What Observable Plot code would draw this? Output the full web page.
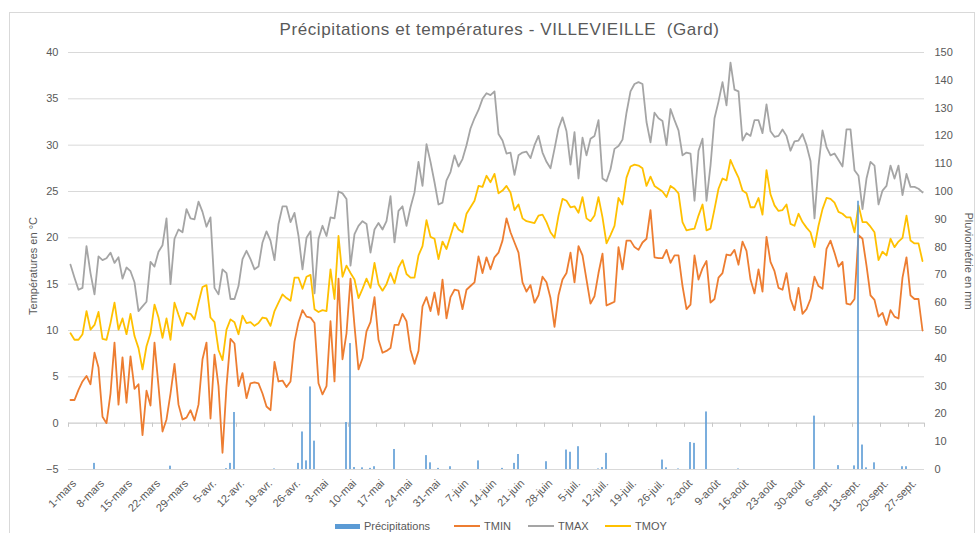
<!DOCTYPE html>
<html>
<head>
<meta charset="utf-8">
<script src="https://cdn.jsdelivr.net/npm/d3@7"></script>
<script src="https://cdn.jsdelivr.net/npm/@observablehq/plot@0.6"></script>
<style>
  html, body { margin: 0; padding: 0; background: #fff; }
  body { font-family: "Liberation Sans", Arial, sans-serif; color: #595959; }
  #wrap { position: relative; width: 978px; height: 533px; overflow: hidden; }
  #frame { position: absolute; left: 9px; top: 12px; width: 966px; height: 540px; border: 1px solid #d9d9d9; box-sizing: border-box; }
  #title { position: absolute; left: 0; top: 20px; width: 999px; text-align: center; font-size: 17px; letter-spacing: 0.6px; white-space: pre; color: #595959; }
  #chart { position: absolute; left: 0; top: 0; }
  .lg { position: absolute; font-size: 11px; color: #595959; top: 519px; line-height: 14px; }
  .sw { position: absolute; }
</style>
</head>
<body>
<div id="wrap">
  <div id="frame"></div>
  <div id="title">Précipitations et températures - VILLEVIEILLE  (Gard)</div>
  <div id="chart"></div>
  <div id="legend"></div>
</div>
<script>
// ---- Data (daily, 1 March -> 30 September) ----
const tmax = [
 17.1,15.7,14.4,14.6,19.1,16.2,13.9,18.0,17.6,17.8,18.4,17.3,17.9,15.6,16.8,16.4,15.2,12.1,12.6,13.1,
 17.4,16.9,18.5,19.2,22.1,15.0,19.9,20.9,20.6,23.1,22.1,22.0,23.9,22.8,21.2,22.2,14.6,13.9,16.6,16.2,
 13.4,13.4,14.8,17.7,18.6,17.7,16.6,16.9,19.5,20.7,19.7,17.6,21.5,23.4,23.4,21.7,22.7,20.2,16.6,20.0,
 20.7,14.0,19.9,21.3,20.2,22.2,22.1,25.0,24.8,24.2,17.0,20.4,21.3,21.8,21.5,18.4,20.9,21.6,20.9,21.8,
 24.5,19.5,22.9,23.4,21.3,23.3,24.9,28.2,25.6,30.1,28.2,26.0,23.6,23.8,26.2,27.1,28.9,27.7,28.5,30.0,
 31.8,32.9,33.8,35.0,35.6,35.4,35.8,31.2,30.5,29.1,29.2,26.8,28.9,29.2,29.3,28.6,30.0,31.0,29.2,28.2,
 27.5,29.6,31.8,33.0,31.5,27.9,31.4,26.4,30.8,28.9,30.7,31.0,32.7,26.4,26.1,27.4,29.6,29.9,30.6,33.5,
 35.8,36.6,36.8,36.6,32.5,30.3,33.5,32.9,32.6,30.0,33.9,32.7,31.6,28.9,29.2,29.1,24.0,29.4,30.7,24.0,
 27.8,32.9,34.7,36.8,34.3,38.9,36.0,35.8,30.5,31.3,31.0,32.7,32.7,31.3,34.4,31.5,30.9,31.0,31.7,31.0,
 29.4,30.4,30.5,31.2,30.0,28.3,22.1,27.8,31.6,29.8,28.9,29.1,28.4,27.7,31.7,31.7,27.3,26.7,23.1,26.4,
 28.2,27.8,23.6,25.1,25.6,27.8,26.4,27.8,24.6,26.9,25.5,25.5,25.3,24.9
];
const tmoy = [
 9.7,9.0,9.0,9.6,12.1,10.1,10.6,12.0,9.1,9.0,10.8,13.0,10.1,11.3,9.6,11.8,9.4,8.1,5.8,8.3,
 9.7,12.8,11.4,9.2,11.3,9.0,13.0,11.7,10.5,11.9,11.8,11.2,13.0,14.7,14.9,11.4,10.9,7.9,6.8,10.1,
 11.2,10.9,9.6,11.6,10.8,10.9,10.5,10.8,11.4,11.3,10.5,12.1,13.0,13.9,13.5,13.2,15.7,15.7,14.5,15.8,
 16.0,12.3,12.0,12.2,12.1,16.6,13.4,20.2,15.8,17.0,16.2,15.5,13.5,14.5,15.6,14.6,17.3,15.0,14.3,15.0,
 16.2,15.1,16.8,17.6,16.1,15.7,15.7,18.1,19.1,21.9,20.1,19.9,17.7,19.6,18.8,20.2,21.6,20.9,20.6,22.6,
 23.3,24.0,25.6,25.5,26.7,26.0,26.9,24.8,25.1,25.6,24.9,23.0,23.6,22.1,21.8,21.7,21.6,22.4,22.5,21.7,
 20.6,20.0,22.4,24.2,24.0,23.3,23.4,22.7,24.4,22.1,21.8,22.4,24.4,22.2,19.4,20.3,21.3,24.3,23.6,26.5,
 27.7,27.9,27.8,27.5,25.6,26.6,25.6,25.3,25.0,24.4,25.6,25.3,24.8,21.7,20.8,20.9,21.0,22.4,23.6,20.8,
 21.0,23.1,25.3,26.4,26.2,28.4,27.4,26.5,25.1,24.8,23.3,23.3,24.3,22.5,27.3,24.7,23.5,22.9,23.0,23.6,
 21.5,21.3,22.6,21.7,21.1,20.6,19.0,21.3,23.1,24.3,24.2,23.8,22.8,22.6,22.2,22.2,20.6,23.5,21.7,21.7,
 21.2,20.6,17.6,18.5,18.1,19.9,19.0,19.6,20.0,22.4,19.7,19.4,19.4,17.5
];
const tmin = [
 2.5,2.5,3.6,4.5,5.1,4.2,7.6,6.0,0.7,0.0,3.2,8.7,2.0,7.1,2.2,7.2,3.7,4.2,-1.3,3.5,
 1.9,8.7,4.0,-0.9,0.4,3.2,6.4,2.0,0.4,0.6,1.4,0.3,2.0,6.9,8.7,0.5,7.4,4.0,-3.2,4.0,
 9.1,8.6,4.0,5.4,2.7,4.3,4.4,4.3,3.2,1.8,1.4,6.6,4.5,4.6,3.9,4.5,8.8,10.9,12.2,11.5,
 11.4,10.8,4.3,3.1,4.0,11.0,4.5,15.6,6.9,9.7,15.6,10.5,5.8,7.0,9.9,10.9,13.6,9.0,7.6,7.8,
 8.1,10.6,10.6,11.8,11.0,7.9,6.4,7.8,12.6,13.6,12.1,14.1,11.7,15.5,11.3,13.6,14.4,14.3,12.3,14.4,
 14.8,15.2,18.0,16.2,17.9,16.6,17.9,18.4,19.7,22.1,20.6,19.5,18.4,15.2,14.2,14.9,13.0,13.8,15.8,15.2,
 13.5,10.4,13.8,15.5,16.2,18.4,15.2,19.1,18.1,15.5,12.9,13.7,16.2,18.3,12.7,12.9,13.1,19.0,16.6,19.7,
 19.7,19.0,18.7,19.5,19.9,23.0,17.9,17.8,17.8,18.7,17.3,18.1,18.1,14.8,12.3,12.8,18.1,15.5,16.7,17.5,
 13.0,13.4,15.7,16.2,18.2,18.1,18.7,17.1,19.6,18.6,15.5,14.0,16.6,14.2,20.1,17.4,16.4,14.6,14.4,16.2,
 13.4,12.2,14.6,11.8,12.3,13.4,15.8,14.8,14.5,18.8,19.7,18.4,16.9,17.4,12.9,12.8,13.4,20.3,19.9,17.0,
 13.8,13.3,11.5,11.9,10.6,12.2,11.5,11.3,15.7,17.9,13.8,13.4,13.4,10.0
];
const precip = [
 0,0,0,0,0,0,2.2,0,0,0,0,0,0,0,0,0,0,0,0,0,
 0,0,0,0,0,1.2,0,0,0,0,0,0,0,0,0,0,0,0,0,0.3,
 2.2,20.5,0,0,0,0,0,0,0,0,0,0.2,0,0,0,0,0,2.2,13.5,3.1,
 29.7,10.2,0,0,0,0,0,0,0,16.9,45.3,0.7,0,0.6,0,0.4,1.0,0,0,0,
 0,7.2,0,0,0,0,0,0,0,5.0,2.4,0,0.4,0,0,1.0,0,0,0,0,
 0,0,3.1,0,0,0,0,0,0.4,0,0,2.2,5.4,0,0,0,0,0,0,2.8,
 0,0,0,0,7.0,6.2,0,8.2,0,0,0,0,0.2,0.7,5.8,0,0,0,0,0,
 0,0,0,0,0,0,0,0,3.4,0.6,0,0,0.2,0,0,9.7,9.4,0,0,20.7,
 0,0,0,0,0,0,0,0.2,0,0,0,0,0,0,0,0,0,0,0,0,
 0,0,0,0,0,0,19.2,0,0,0,0,0,1.4,0,0,0,1.3,96.5,8.8,0.6,
 0,2.4,0,0,0,0,0,0,1.0,1.0,0,0,0,0
];
const xTickLabels = ["1-mars","8-mars","15-mars","22-mars","29-mars","5-avr.","12-avr.","19-avr.","26-avr.",
  "3-mai","10-mai","17-mai","24-mai","31-mai","7-juin","14-juin","21-juin","28-juin","5-juil.","12-juil.",
  "19-juil.","26-juil.","2-août","9-août","16-août","23-août","30-août","6-sept.","13-sept.","20-sept.","27-sept."];
const tempTicks = [-5, 0, 5, 10, 15, 20, 25, 30, 35, 40];
const rainTicks = [0, 10, 20, 30, 40, 50, 60, 70, 80, 90, 100, 110, 120, 130, 140, 150];
const seriesNames = ["Précipitations", "TMIN", "TMAX", "TMOY"];
const seriesColors = ["#5B9BD5", "#ED7D31", "#A5A5A5", "#FFC000"];

// secondary axis (0..150 mm) mapped onto primary (-5..40 °C)
const rainToT = p => -5 + p * 45 / 150;
const tToRain = t => Math.round((t + 5) * 150 / 45);

const days = d3.range(tmax.length);
const tickIdx = xTickLabels.map((_, k) => k * 7);

const chart = Plot.plot({
  width: 978,
  height: 533,
  marginTop: 52,
  marginBottom: 64,
  marginLeft: 68,
  marginRight: 54,
  style: { background: "transparent", fontFamily: "'Liberation Sans', Arial, sans-serif", fontSize: "11px", color: "#595959" },
  x: { domain: [0, days.length], axis: null },
  y: { domain: [-5, 40], axis: null },
  marks: [
    Plot.ruleY(tempTicks, { y: d => d, stroke: "#d9d9d9", strokeWidth: 1 }),
    Plot.ruleY([0], { stroke: "#d0d0d0", strokeWidth: 1 }),
    Plot.ruleX(tickIdx.concat([days.length]), { x: d => d, y1: 0, y2: -0.45, stroke: "#c8c8c8" }),
    Plot.line(days, { x: i => i + 0.5, y: i => tmin[i], stroke: seriesColors[1], strokeWidth: 1.8, curve: "linear" }),
    Plot.line(days, { x: i => i + 0.5, y: i => tmax[i], stroke: seriesColors[2], strokeWidth: 1.8, curve: "linear" }),
    Plot.line(days, { x: i => i + 0.5, y: i => tmoy[i], stroke: seriesColors[3], strokeWidth: 1.8, curve: "linear" }),
    Plot.rect(days.filter(i => precip[i] > 0), { x1: i => i + 0.3, x2: i => i + 0.7, y1: -5, y2: i => rainToT(precip[i]), fill: seriesColors[0] }),
    Plot.axisY(tempTicks, { anchor: "left", tickSize: 0, tickPadding: 10, label: null, fill: "#595959" }),
    Plot.axisY(rainTicks.map(rainToT), { anchor: "right", tickSize: 0, tickPadding: 10, label: null, tickFormat: tToRain, fill: "#595959" }),
    Plot.text(tickIdx, { x: d => d + 0.5, y: -5, text: (d, k) => xTickLabels[k], rotate: -45, textAnchor: "end", dx: 4, dy: 12, fill: "#595959", fontSize: 11 }),
    Plot.text(["Températures en °C"], { frameAnchor: "left", textAnchor: "middle", dx: -35, dy: 5, rotate: -90, fill: "#595959", fontSize: 11 }),
    Plot.text(["Pluviométrie en mm"], { frameAnchor: "right", textAnchor: "middle", dx: 44, dy: 0, rotate: 90, fill: "#595959", fontSize: 11 })
  ]
});
document.getElementById("chart").appendChild(chart);

// legend
const legend = document.getElementById("legend");
const items = [
  { name: seriesNames[0], color: seriesColors[0], sx: 335, sw: 25, sh: 5, tx: 364 },
  { name: seriesNames[1], color: seriesColors[1], sx: 454, sw: 26, sh: 2, tx: 484 },
  { name: seriesNames[2], color: seriesColors[2], sx: 528, sw: 26, sh: 2, tx: 558 },
  { name: seriesNames[3], color: seriesColors[3], sx: 605, sw: 26, sh: 2, tx: 635 }
];
for (const it of items) {
  const s = document.createElement("div");
  s.className = "sw";
  s.style.left = it.sx + "px"; s.style.width = it.sw + "px"; s.style.height = it.sh + "px";
  s.style.top = (526 - it.sh / 2) + "px"; s.style.background = it.color;
  legend.appendChild(s);
  const t = document.createElement("div");
  t.className = "lg"; t.style.left = it.tx + "px"; t.textContent = it.name;
  legend.appendChild(t);
}
</script>
</body>
</html>
